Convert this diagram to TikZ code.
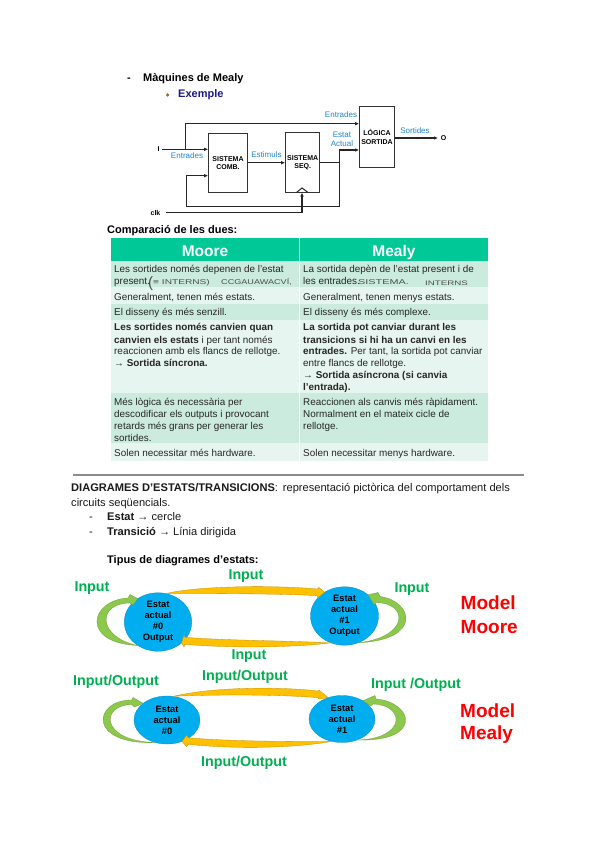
\documentclass[tikz,border=0pt]{standalone}
\usepackage{fontspec}
\setmainfont{Liberation Sans}
\usetikzlibrary{arrows.meta,shapes.geometric}
\definecolor{hdr}{HTML}{00C896}
\definecolor{rowd}{HTML}{CBEBDF}
\definecolor{rowl}{HTML}{E6F5EF}
\definecolor{bluelab}{HTML}{1F86D0}
\definecolor{ell}{HTML}{00AEEF}
\definecolor{orng}{HTML}{FFC000}
\definecolor{grn}{HTML}{8CC84B}
\definecolor{glab}{HTML}{00B050}
\definecolor{navy}{HTML}{1A1A8C}
\tikzset{
 tline/.style={anchor=base west,inner sep=0pt,font=\fontsize{9.9}{11}\selectfont,text=black!85},
 bodyt/.style={anchor=base west,inner sep=0pt,font=\fontsize{11.1}{12}\selectfont,text=black!90},
 head/.style={anchor=base west,inner sep=0pt,font=\bfseries\fontsize{11}{12}\selectfont},
 hand/.style={anchor=base west,inner sep=0pt,font=\fontsize{7}{8}\selectfont,text=black!70},
 blk/.style={draw=black!80,line width=1pt,fill=white,align=center,inner sep=0pt,font=\bfseries\fontsize{7}{8.5}\selectfont},
 lab/.style={inner sep=0pt,text=bluelab,font=\fontsize{8}{9.3}\selectfont,align=center},
 wire/.style={draw=black!85,line width=1.2pt},
 wtip/.style={wire,-{Latex[length=4pt,width=3.5pt]}},
 st/.style={ellipse,fill=ell,draw=ell!80!black,line width=.3pt,inner sep=0pt,align=center,text=black,font=\bfseries\fontsize{9.3}{11}\selectfont},
 orarr/.style={fill=orng,draw=orng!75!black,line width=.3pt},
 grarr/.style={fill=grn,draw=grn!80!black,line width=.3pt},
 glabel/.style={inner sep=0pt,text=glab,font=\bfseries\fontsize{14.3}{16}\selectfont},
 mlabel/.style={anchor=west,inner sep=0pt,text=red,font=\bfseries\fontsize{19}{22}\selectfont},
 thead/.style={anchor=base,inner sep=0pt,text=white,font=\bfseries\fontsize{15.5}{18}\selectfont},
 sml/.style={inner sep=0pt,font=\bfseries\fontsize{7}{8}\selectfont},
}
\newcommand{\tln}[4]{\node[tline] (#1) at (#2,#3) {#4};}
\begin{document}
\begin{tikzpicture}[x=1pt,y=-1pt]
\useasboundingbox (0,0) rectangle (600,848);
\fill[white] (0,0) rectangle (600,848);
% headings
\node[head] (d1) at (127,82) {-};
\node[head] (h1) at (143,82) {Màquines de Mealy};
\node[circle,fill=brown!80!black,inner sep=0pt,minimum size=3.5pt] (bu) at (167.5,95) {};
\node[head,text=navy] (h2) at (178,98) {Exemple};
% circuit
\node[blk,minimum width=38.6pt,minimum height=59.4pt] (comb) at (228,163) {SISTEMA\\COMB.};
\node[blk,minimum width=34pt,minimum height=60.4pt] (seq) at (302.7,162.5) {SISTEMA\\SEQ.};
\node[blk,minimum width=34.6pt,minimum height=60pt] (logic) at (377,137) {LÓGICA\\SORTIDA};
\node[sml] (iin) at (158.5,149.5) {I};
\node[sml] (clk) at (155.5,213) {clk};
\node[sml] (oo) at (443.5,138) {O};
\coordinate (c0) at (162,149.3);
\coordinate (c1) at (185.3,149.3);
\coordinate (c2) at (185.3,123.7);
\coordinate (c3) at (339.7,162.7);
\coordinate (c4) at (339.7,150);
\coordinate (c5) at (339.7,206.7);
\coordinate (c6) at (186.7,206.7);
\coordinate (c7) at (186.7,175.7);
\coordinate (c8) at (302,212.7);
\coordinate (c9) at (166,212.7);
\coordinate (ckb) at (302,192.5);
\draw[wtip] (c0) -- (c1) -- (comb.west |- c1);
\draw[wtip] (c1) -- (c2) -- (logic.west |- c2);
\draw[wtip] (comb.east |- c3) -- (seq.west |- c3);
\draw[wtip] (seq.east |- c3) -- (c3) -- (c4) -- (logic.west |- c4);
\draw[wtip,line width=1.5pt] (c3) -- (c5) -- (c6) -- (c7) -- (comb.west |- c7);
\draw[wtip] (c9) -- (c8) -- (ckb);
\draw[wire,line width=1pt] (296.5,192.5) -- (302,188) -- (308,192.5);
\draw[wtip,shorten >=2.5pt] (logic.east |- oo) -- (oo.west);
\node[lab] (l1) at (341,115) {Entrades};
\node[lab] (l2) at (342,139.5) {Estat\\Actual};
\node[lab] (l3) at (415,131) {Sortides};
\node[lab] (l4) at (187,155.5) {Entrades};
\node[lab] (l5) at (266.5,155) {Estimuls};
% comparison
\node[head] (cmp) at (107,233) {Comparació de les dues:};
\fill[hdr] (110.5,238) rectangle (488,260.5);
\fill[rowd] (110.5,261) rectangle (488,287);
\fill[rowl] (110.5,287) rectangle (488,304);
\fill[rowd] (110.5,304) rectangle (488,320);
\fill[rowl] (110.5,320) rectangle (488,393);
\fill[rowd] (110.5,393) rectangle (488,443);
\fill[rowl] (110.5,443) rectangle (488,460.5);
\draw[white,line width=.6pt] (299.5,238) -- (299.5,460.5);
\node[thead] (mo) at (205,256) {Moore};
\node[thead] (me) at (394,256) {Mealy};
\tln{a1}{114}{272}{Les sortides només depenen de l'estat}
\tln{a2}{114}{284.5}{present.}
\node[hand,font=\fontsize{15}{16}\selectfont] (a2h0) at (148,287) {(};
\node[hand] (a2h) at (153,284) {\scalebox{1.45}[1]{≡ INTERNS)}};
\node[hand] (a2i) at (221,284) {\scalebox{1.3}[1]{CCGAUAWACVÍ,}};
\tln{a3}{114}{300}{Generalment, tenen més estats.}
\tln{a4}{114}{315.5}{El disseny és més senzill.}
\tln{a5}{114}{330.5}{\bfseries Les sortides només canvien quan}
\tln{a6}{114}{343}{\textbf{canvien els estats} i per tant només}
\tln{a7}{114}{354.5}{reaccionen amb els flancs de rellotge.}
\tln{a8}{114}{366.5}{\bfseries → Sortida síncrona.}
\tln{a9}{114}{405}{Més lògica és necessària per}
\tln{a10}{114}{417}{descodificar els outputs i provocant}
\tln{a11}{114}{429}{retards més grans per generar les}
\tln{a12}{114}{441}{sortides.}
\tln{a13}{114}{456}{Solen necessitar més hardware.}
\tln{b1}{303}{272}{La sortida depèn de l'estat present i de}
\tln{b2}{303}{284.5}{les entrades.}
\node[hand] (b2h) at (358,284) {\scalebox{1.55}[1]{SISTEMA.}};
\node[hand,font=\fontsize{6.5}{7}\selectfont] (b2i) at (425,285) {\scalebox{1.5}[1]{INTERNS}};
\tln{b3}{303}{300}{Generalment, tenen menys estats.}
\tln{b4}{303}{315.5}{El disseny és més complexe.}
\tln{b5}{303}{330.5}{\bfseries La sortida pot canviar durant les}
\tln{b6}{303}{343}{\bfseries transicions si hi ha un canvi en les}
\tln{b7}{303}{354.5}{\textbf{entrades.} Per tant, la sortida pot canviar}
\tln{b8}{303}{366.5}{entre flancs de rellotge.}
\tln{b9}{303}{378.5}{\bfseries → Sortida asíncrona (si canvia}
\tln{b10}{303}{390}{\bfseries l'entrada).}
\tln{b11}{303}{405}{Reaccionen als canvis més ràpidament.}
\tln{b12}{303}{417}{Normalment en el mateix cicle de}
\tln{b13}{303}{429}{rellotge.}
\tln{b14}{303}{456}{Solen necessitar menys hardware.}
% separator
\draw[black!45,line width=1.2pt] (73,475) -- (524,475);
\node[bodyt] (p1) at (71,491) {\textbf{DIAGRAMES D'ESTATS/TRANSICIONS}:\, representació pictòrica del comportament dels};
\node[bodyt] (p2) at (71,506) {circuits seqüencials.};
\node[bodyt] (p3) at (89,520) {-};
\node[bodyt] (p4) at (107,520) {\textbf{Estat} → cercle};
\node[bodyt] (p5) at (89,535) {-};
\node[bodyt] (p6) at (107,535) {\textbf{Transició} → Línia dirigida};
\node[head] (p7) at (107,563) {Tipus de diagrames d'estats:};
% Moore
\node[st,minimum width=67.4pt,minimum height=48pt] (m0) at (158,622) {Estat\\actual\\\#0\\Output};
\node[st,minimum width=68pt,minimum height=50pt] (m1) at (344.5,616) {Estat\\actual\\\#1\\Output};
\draw[orarr] (m0.74) .. controls (200,585.3) and (280,585.3) .. (317,589) -- (319,587.5) -- (m1.130) -- (318,598) -- (317,595.7) .. controls (280,593.5) and (205,593.5) .. (m0.74) -- cycle;
\draw[orarr] (m1.243) .. controls (290,640.6) and (225,640.6) .. (185,637.3) -- (184,635) -- (m0.318) -- (184,646.7) -- (185,644.3) .. controls (225,648) and (290,648) .. (m1.243) -- cycle;
\draw[grarr] (m0.229) .. controls (80,643) and (90,600) .. (128,598) -- (130,594.5) -- (m0.131) -- (133,605) -- (130,603) .. controls (97,603) and (97,637) .. (m0.229) -- cycle;
\draw[grarr] (m1.298) .. controls (423,640) and (413,601) .. (380,596.5) -- (378,592.5) -- (m1.42) -- (374,604.5) -- (376,602.5) .. controls (409,603) and (409,637) .. (m1.298) -- cycle;
\node[glabel] (i1) at (246,576) {Input};
\node[glabel] (i2) at (92,588) {Input};
\node[glabel] (i3) at (412,589) {Input};
\node[glabel] (i4) at (249,656) {Input};
\node[mlabel] (mm1) at (460.5,603) {Model};
\node[mlabel] (mm2) at (460.5,627) {Moore};
% Mealy
\node[st,minimum width=66pt,minimum height=48pt] (n0) at (167,720) {Estat\\actual\\\#0};
\node[st,minimum width=66pt,minimum height=47pt] (n1) at (342,719) {Estat\\actual\\\#1};
\draw[orarr] (n0.75) .. controls (215,686.6) and (280,686.6) .. (318,691) -- (319,690) -- (n1.123) -- (319,699) -- (318,697.7) .. controls (280,694.4) and (215,694.4) .. (n0.75) -- cycle;
\draw[orarr] (n1.245) .. controls (290,741.5) and (230,741.5) .. (188,737.7) -- (186.7,735) -- (n0.305) -- (186.7,746.7) -- (188,744.3) .. controls (230,748.8) and (290,748.8) .. (n1.245) -- cycle;
\draw[grarr] (n0.242) .. controls (87,745) and (93,700) .. (131.7,700) -- (133,697.5) -- (n0.145) -- (134.5,707) -- (131.7,704.5) .. controls (100,705) and (100,741) .. (n0.242) -- cycle;
\draw[grarr] (n1.306) .. controls (424,742) and (413,702) .. (376,699) -- (375,695.5) -- (n1.41) -- (371,706) -- (373,704) .. controls (406,705) and (406,739) .. (n1.306) -- cycle;
\node[glabel] (j1) at (116,682) {Input/Output};
\node[glabel] (j2) at (245,677) {Input/Output};
\node[glabel] (j3) at (416,685) {Input /Output};
\node[glabel] (j4) at (244,763) {Input/Output};
\node[mlabel] (nm1) at (460,711) {Model};
\node[mlabel] (nm2) at (460,735) {Mealy};
\end{tikzpicture}
\end{document}
